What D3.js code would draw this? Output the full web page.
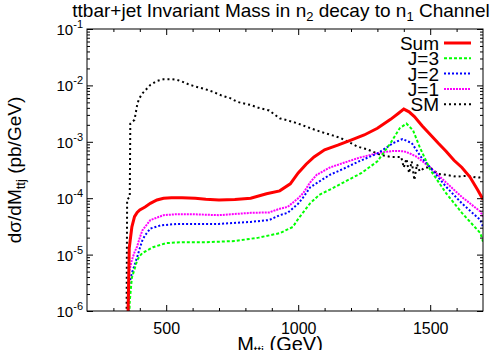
<!DOCTYPE html>
<html>
<head>
<meta charset="utf-8">
<script src="https://cdn.jsdelivr.net/npm/d3@7"></script>
<style>
  body { margin: 0; background: #fff; }
  text { font-family: Arial, "Liberation Sans", sans-serif; fill: #000; }
</style>
</head>
<body>
<div id="chart"></div>
<script>
// datos: [M_ttj (GeV), dsigma/dM (pb/GeV)]
var sumData = [[348,1e-8],[360,1.3e-5],[370,3.1e-5],[380,4.7e-5],[390,5.6e-5],[400,6.2e-5],[420,7.0e-5],
  [440,8.1e-5],[465,9.3e-5],[490,1.0e-4],[520,1.02e-4],[560,1.02e-4],[610,1.0e-4],[650,9.6e-5],[700,9.3e-5],
  [760,9.5e-5],[820,1.0e-4],[880,1.2e-4],[930,1.35e-4],[970,1.8e-4],[1000,2.8e-4],[1030,4.0e-4],[1060,5.4e-4],
  [1100,7.2e-4],[1150,8.7e-4],[1200,1.07e-3],[1250,1.32e-3],[1300,1.74e-3],[1350,2.5e-3],[1380,3.2e-3],
  [1400,3.8e-3],[1420,3.4e-3],[1440,2.8e-3],[1470,1.9e-3],[1500,1.35e-3],[1530,9.5e-4],[1560,6.8e-4],
  [1590,4.7e-4],[1620,3.5e-4],[1650,2.4e-4],[1680,1.4e-4],[1700,9.5e-5]];

var j3Data = [[350,1e-8],[362,1.5e-6],[370,3.9e-6],[380,5.5e-6],[390,7.9e-6],[400,9.5e-6],[410,1.07e-5],
  [430,1.2e-5],[450,1.35e-5],[500,1.6e-5],[560,1.66e-5],[650,1.66e-5],[760,1.74e-5],[850,2.0e-5],
  [930,2.4e-5],[980,3.1e-5],[1000,4.3e-5],[1045,8.1e-5],[1080,1.15e-4],[1130,1.5e-4],[1180,2.0e-4],
  [1240,2.8e-4],[1300,4.5e-4],[1350,9.5e-4],[1385,1.75e-3],[1410,2.1e-3],[1435,1.6e-3],[1460,8.1e-4],
  [1500,3.2e-4],[1560,1.23e-4],[1620,5.5e-5],[1690,2.4e-5],[1700,1.7e-5]];

var j2Data = [[349,1e-8],[360,3e-6],[370,4.7e-6],[380,6.5e-6],[390,9e-6],[400,1.3e-5],[410,1.8e-5],
  [420,2.2e-5],[440,2.9e-5],[480,3.3e-5],[540,3.5e-5],[700,3.5e-5],[820,3.8e-5],[890,4.1e-5],[930,5.0e-5],
  [960,5.5e-5],[1000,8e-5],[1020,1.05e-4],[1045,1.55e-4],[1070,1.85e-4],[1120,2.6e-4],[1170,3.3e-4],
  [1230,4.5e-4],[1300,6.2e-4],[1360,9.5e-4],[1395,1.12e-3],[1430,9.5e-4],[1465,5.4e-4],[1500,3.5e-4],
  [1560,1.6e-4],[1620,8.1e-5],[1690,4.1e-5],[1700,3.1e-5]];

var j1Data = [[349,1e-8],[360,5e-6],[370,8e-6],[380,1.1e-5],[390,1.4e-5],[400,2.0e-5],[410,2.7e-5],
  [440,4.1e-5],[490,5.0e-5],[540,5.2e-5],[600,5.2e-5],[700,5.0e-5],[820,5.5e-5],[890,5.6e-5],[930,6.5e-5],
  [960,7.0e-5],[1000,1.0e-4],[1020,1.25e-4],[1045,1.9e-4],[1070,2.6e-4],[1120,3.5e-4],[1170,4.2e-4],
  [1230,5.2e-4],[1300,6.3e-4],[1360,6.9e-4],[1400,6.8e-4],[1420,6.3e-4],[1450,5.4e-4],[1500,3.5e-4],
  [1560,1.9e-4],[1620,1.05e-4],[1690,5.8e-5],[1700,4.7e-5]];

var smData = [[348,1e-8],[352,9.5e-5],[362,1.05e-4],[364,2.1e-3],[380,2.45e-3],[390,4.5e-3],[397,5.8e-3],
  [412,7.4e-3],[440,1.02e-2],[465,1.2e-2],[490,1.29e-2],[520,1.29e-2],[540,1.26e-2],[560,1.17e-2],
  [590,1.02e-2],[620,9.3e-3],[650,8.5e-3],[680,7.6e-3],[710,6.6e-3],[740,6.0e-3],[770,5.1e-3],[800,4.7e-3],
  [820,4.5e-3],[850,4.0e-3],[890,3.6e-3],[930,2.6e-3],[960,2.4e-3],[1000,2.1e-3],[1045,1.75e-3],
  [1090,1.48e-3],[1130,1.3e-3],[1160,1.17e-3],[1190,1.0e-3],[1225,8.2e-4],[1260,7.4e-4],[1310,5.9e-4],
  [1350,5.4e-4],[1390,5.4e-4],[1400,3.5e-4],[1410,5.0e-4],[1420,2.8e-4],[1430,4.5e-4],[1440,2.1e-4],
  [1450,4.0e-4],[1460,3.0e-4],[1480,3.5e-4],[1500,3.5e-4],[1530,2.7e-4],[1560,2.6e-4],[1600,2.4e-4],
  [1640,2.5e-4],[1680,2.3e-4],[1700,2.4e-4]];

var seriesNames = ["Sum", "J=3", "J=2", "J=1", "SM"];
var xTicks = [500, 1000, 1500];
var yTicks = [-6, -5, -4, -3, -2, -1];

var W = 500, H = 350;
var margin = {top: 29, right: 17, bottom: 39, left: 87};
var width = W - margin.left - margin.right,
    height = H - margin.top - margin.bottom;

var svg = d3.select("#chart").append("svg")
  .attr("width", W).attr("height", H);

var g = svg.append("g")
  .attr("transform", "translate(" + margin.left + "," + margin.top + ")");

var x = d3.scaleLinear().domain([200, 1700]).range([0, width]);
var y = d3.scaleLog().domain([1e-6, 1e-1]).range([height, 0]);

// estilos de cada serie
var styles = [
  {data: sumData, color: "#ff0000", w: 3, dash: null},
  {data: j3Data, color: "#00ff00", w: 2, dash: "3,2"},
  {data: j2Data, color: "#0000ff", w: 2, dash: "2,2"},
  {data: j1Data, color: "#ff00ff", w: 2, dash: "2,1"},
  {data: smData, color: "#000000", w: 2, dash: "2,3"}
];

g.append("clipPath").attr("id", "clip")
  .append("rect").attr("width", width).attr("height", height);

var line = d3.line()
  .x(function(d) { return x(d[0]); })
  .y(function(d) { return y(d[1]); });

// dibujamos las curvas (SM primero, debajo)
styles.slice().reverse().forEach(function(s) {
  g.append("path")
    .datum(s.data)
    .attr("clip-path", "url(#clip)")
    .attr("d", line)
    .style("fill", "none")
    .style("stroke", s.color)
    .style("stroke-width", s.w)
    .style("stroke-dasharray", s.dash);
});

// ejes con ticks hacia dentro en los cuatro lados
var minorX = d3.range(300, 1700, 100).filter(function(d) { return xTicks.indexOf(d) < 0; });
var minorY = [];
yTicks.slice(0, -1).forEach(function(e) {
  for (var k = 2; k < 10; k++) minorY.push(k * Math.pow(10, e));
});

var axisCol = "#000";
function drawAxis(axis, tr) {
  var a = g.append("g").attr("transform", tr).call(axis);
  a.select(".domain").remove();
  a.selectAll("line").style("stroke", axisCol);
  return a;
}

var xb = drawAxis(d3.axisBottom(x).tickValues(xTicks).tickSizeInner(-6).tickPadding(12).tickFormat(d3.format("d")),
  "translate(0," + height + ")");
xb.selectAll("text").style("font-size", "16px").style("font-family", "Arial, 'Liberation Sans', sans-serif");
drawAxis(d3.axisBottom(x).tickValues(minorX).tickSizeInner(-3).tickFormat(""), "translate(0," + height + ")");
drawAxis(d3.axisTop(x).tickValues(xTicks).tickSizeInner(-6).tickFormat(""), "translate(0,0)");
drawAxis(d3.axisTop(x).tickValues(minorX).tickSizeInner(-3).tickFormat(""), "translate(0,0)");

drawAxis(d3.axisLeft(y).tickValues(yTicks.map(function(e) { return Math.pow(10, e); }))
  .tickSizeInner(-6).tickFormat(""), "translate(0,0)");
drawAxis(d3.axisLeft(y).tickValues(minorY).tickSizeInner(-3).tickFormat(""), "translate(0,0)");
drawAxis(d3.axisRight(y).tickValues(yTicks.map(function(e) { return Math.pow(10, e); }))
  .tickSizeInner(-6).tickFormat(""), "translate(" + width + ",0)");
drawAxis(d3.axisRight(y).tickValues(minorY).tickSizeInner(-3).tickFormat(""), "translate(" + width + ",0)");

// etiquetas 10^n
yTicks.forEach(function(e) {
  var t = g.append("text")
    .attr("x", -4).attr("y", y(Math.pow(10, e)) + 6)
    .attr("text-anchor", "end").style("font-size", "15px");
  t.append("tspan").text("10");
  t.append("tspan").attr("dy", -7).style("font-size", "11px").text(e);
});

// marco
g.append("rect").attr("width", width).attr("height", height)
  .style("fill", "none").style("stroke", axisCol).style("stroke-width", 1);

// titulo
var title = svg.append("text")
  .attr("x", margin.left + width / 2 - 4).attr("y", 17)
  .attr("text-anchor", "middle").style("font-size", "19px");
title.append("tspan").text("ttbar+jet Invariant Mass in n");
title.append("tspan").attr("dy", 4).style("font-size", "13px").text("2");
title.append("tspan").attr("dy", -4).text(" decay to n");
title.append("tspan").attr("dy", 4).style("font-size", "13px").text("1");
title.append("tspan").attr("dy", -4).text(" Channel");

// titulo eje x
var xt = svg.append("text")
  .attr("x", margin.left + width / 2 - 5).attr("y", 351)
  .attr("text-anchor", "middle").style("font-size", "20px");
xt.append("tspan").text("M");
xt.append("tspan").attr("dy", 4).style("font-size", "13px").text("ttj");
xt.append("tspan").attr("dy", -4).text(" (GeV)");

// titulo eje y
var yt = svg.append("text")
  .attr("transform", "translate(21," + (margin.top + height / 2) + ") rotate(-90)")
  .attr("text-anchor", "middle").style("font-size", "19px");
yt.append("tspan").text("dσ/dM");
yt.append("tspan").attr("dy", 4).style("font-size", "13px").text("ttj");
yt.append("tspan").attr("dy", -4).text(" (pb/GeV)");

// leyenda
var leg = g.selectAll(".leg").data(styles).enter().append("g")
  .attr("transform", function(d, i) { return "translate(0," + (14 + i * 15.3) + ")"; });
leg.append("text")
  .attr("x", 352).attr("y", 7)
  .attr("text-anchor", "end").style("font-size", "19px")
  .text(function(d, i) { return seriesNames[i]; });
leg.append("line")
  .attr("x1", 357).attr("x2", 384)
  .style("stroke", function(d) { return d.color; })
  .style("stroke-width", function(d) { return d.w; })
  .style("stroke-dasharray", function(d) { return d.dash; });
</script>
</body>
</html>
